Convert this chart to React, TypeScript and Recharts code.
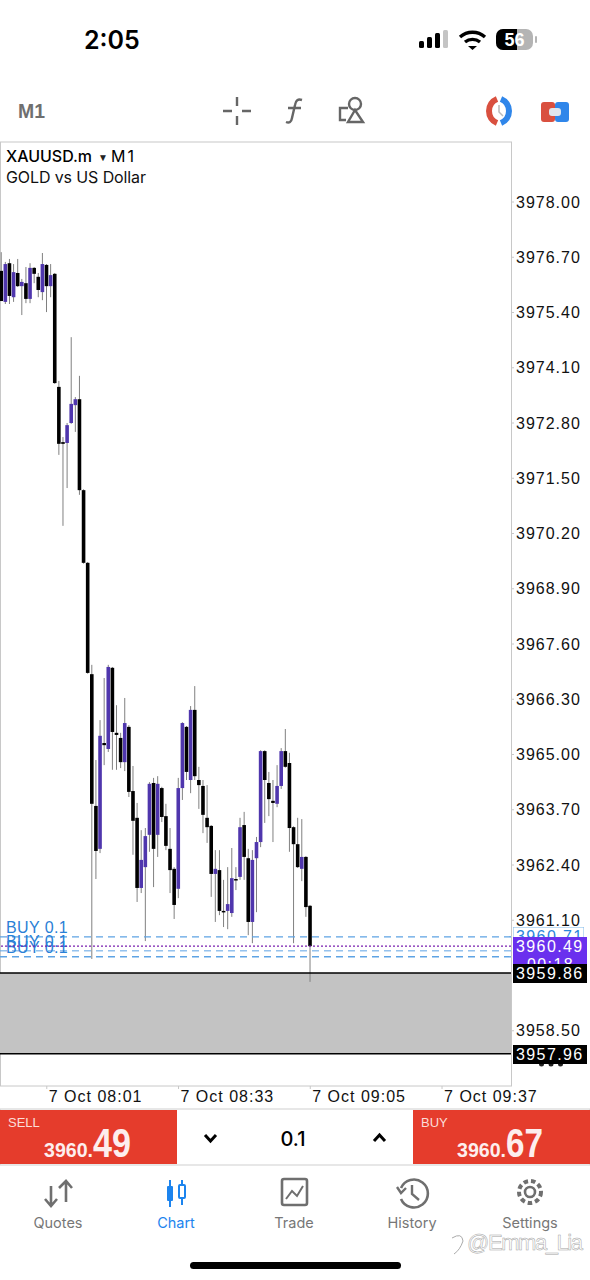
import { Bar, ComposedChart, ReferenceArea, ReferenceLine, XAxis, YAxis } from "recharts";

// M1 candles, 07:50 to 09:05
const opens = [
  3976.38, 3975.65, 3976.56, 3975.76, 3976.33, 3976.02, 3976.09, 3975.72, 3976.45, 3976.24,
  3975.88, 3976.52, 3976.02, 3976.31, 3973.65, 3972.35, 3972.33, 3972.80, 3973.22, 3973.36,
  3971.22, 3969.51, 3966.89, 3963.79, 3962.78, 3965.27, 3965.13, 3967.04, 3965.51, 3965.39,
  3964.82, 3965.65, 3964.14, 3963.51, 3961.86, 3962.35, 3963.11, 3964.33, 3963.11, 3964.21,
  3963.55, 3962.78, 3962.31, 3961.84, 3964.21, 3965.65, 3964.40, 3966.05, 3964.40, 3964.26,
  3963.51, 3963.32, 3962.19, 3962.28, 3961.32, 3961.32, 3961.27, 3962.07, 3962.12, 3963.34,
  3962.56, 3961.06, 3962.56, 3962.94, 3965.08, 3964.33, 3963.91, 3963.84, 3964.26, 3965.08,
  3964.80, 3963.29, 3962.89, 3962.31, 3962.59, 3961.44,
];
const highs = [
  3976.82, 3976.59, 3976.66, 3976.54, 3976.66, 3976.19, 3976.47, 3976.56, 3976.47, 3976.33,
  3976.80, 3976.54, 3976.54, 3976.33, 3973.79, 3972.47, 3972.80, 3974.82, 3973.41, 3973.91,
  3971.24, 3969.53, 3967.11, 3964.87, 3965.81, 3966.80, 3967.11, 3967.06, 3966.16, 3965.51,
  3966.33, 3965.69, 3964.73, 3963.86, 3963.22, 3963.27, 3964.35, 3964.45, 3964.49, 3964.24,
  3963.84, 3963.27, 3962.35, 3964.45, 3965.76, 3965.67, 3966.14, 3966.61, 3964.71, 3964.40,
  3964.28, 3963.34, 3962.75, 3962.75, 3962.05, 3962.35, 3962.80, 3962.35, 3963.51, 3963.65,
  3962.78, 3962.75, 3963.06, 3965.10, 3965.10, 3964.59, 3964.40, 3964.75, 3965.15, 3965.60,
  3965.04, 3963.31, 3963.51, 3963.48, 3962.61, 3961.46,
];
const lows = [
  3975.67, 3975.60, 3975.60, 3975.65, 3976.00, 3975.34, 3975.62, 3975.62, 3976.09, 3975.76,
  3975.69, 3975.41, 3975.76, 3973.72, 3972.05, 3970.38, 3971.27, 3972.78, 3972.59, 3971.11,
  3969.49, 3966.90, 3960.19, 3962.07, 3962.68, 3964.75, 3965.06, 3964.64, 3964.64, 3964.68,
  3964.61, 3964.00, 3962.64, 3961.53, 3961.74, 3960.61, 3962.71, 3961.88, 3962.59, 3963.41,
  3962.75, 3961.74, 3961.13, 3961.62, 3963.93, 3964.40, 3964.09, 3964.40, 3963.72, 3963.15,
  3962.92, 3961.65, 3961.06, 3961.22, 3960.94, 3960.89, 3961.18, 3961.81, 3962.05, 3962.05,
  3960.75, 3960.56, 3961.29, 3962.82, 3963.39, 3963.55, 3962.94, 3963.76, 3964.19, 3964.69,
  3962.71, 3960.56, 3962.33, 3962.02, 3961.18, 3959.65,
];
const closes = [
  3975.67, 3976.54, 3975.79, 3976.35, 3976.02, 3976.12, 3975.72, 3976.45, 3976.31, 3975.93,
  3976.54, 3976.02, 3976.28, 3973.74, 3972.31, 3972.31, 3972.75, 3973.25, 3973.36, 3971.22,
  3969.51, 3966.92, 3963.84, 3962.73, 3965.44, 3965.22, 3967.06, 3965.53, 3965.46, 3964.82,
  3965.74, 3964.12, 3963.44, 3961.86, 3962.52, 3963.08, 3964.31, 3962.78, 3964.31, 3963.53,
  3962.85, 3962.28, 3961.46, 3964.21, 3965.74, 3964.59, 3966.05, 3964.49, 3964.28, 3963.58,
  3963.29, 3962.19, 3962.31, 3961.32, 3961.29, 3961.48, 3962.09, 3962.05, 3963.29, 3962.59,
  3961.06, 3962.52, 3962.94, 3965.08, 3964.40, 3963.95, 3963.86, 3964.26, 3965.08, 3964.71,
  3963.27, 3962.89, 3962.35, 3962.59, 3961.41, 3960.49,
];

const priceTicks = [
  3978.0, 3976.7, 3975.4, 3974.1, 3972.8, 3971.5, 3970.2, 3968.9, 3967.6, 3966.3, 3965.0, 3963.7,
  3962.4, 3961.1, 3958.5,
];
const timeTicks = [11, 43, 75, 107];
const timeLabels = ["7 Oct 08:01", "7 Oct 08:33", "7 Oct 09:05", "7 Oct 09:37"];
const buyLevels = [3960.71, 3960.38, 3960.24];
const buyLabel = "BUY 0.1";
const lastPrice = 3960.49;
const bandTop = 3959.86;
const bandBottom = 3957.96;
const tabs = ["Quotes", "Chart", "Trade", "History", "Settings"];

const data = opens.map((open, index) => ({
  index,
  open,
  high: highs[index],
  low: lows[index],
  close: closes[index],
}));

const SANS = '"Liberation Sans", Arial, sans-serif';
const GREY = "#6f6f6f";
const BLUE = "#1c84ee";
const RED = "#e53c2c";

// draws wick and body inside the low-high rectangle the Bar gives us
function Candle(props: any) {
  const { x, y, width, height, payload } = props;
  const perPrice = height / (payload.high - payload.low);
  const up = payload.close > payload.open;
  const bodyTop = y + (payload.high - Math.max(payload.open, payload.close)) * perPrice;
  const bodyH = Math.max(Math.abs(payload.open - payload.close) * perPrice, 1.5);
  const mid = x + width / 2;
  return (
    <g>
      <line x1={mid} x2={mid} y1={y} y2={y + height} stroke="#808080" strokeWidth={1} />
      <rect
        x={x}
        y={bodyTop}
        width={width}
        height={bodyH}
        fill={up ? "#4f36ad" : "#000"}
      />
    </g>
  );
}

function TimeTick({ x, y, payload }: any) {
  return (
    <text x={x + 2} y={y + 11} textAnchor="start" fontSize={16} fill="#111">
      {timeLabels[timeTicks.indexOf(payload.value)]}
    </text>
  );
}

function PriceTag({ viewBox, top, height, fill, stroke, color, text, sub, baseline, w = 74 }: any) {
  const left = viewBox.x + viewBox.width + 2;
  return (
    <svg x={left} y={top} width={w} height={height} overflow="hidden">
      <rect x={0} y={0} width={w} height={height} fill={fill} stroke={stroke} />
      <text x={3} y={baseline} fontSize={16} fill={color} style={{ letterSpacing: 1.4 }}>
        {text}
      </text>
      {sub && (
        <text x={14} y={33} fontSize={16} fill={color} style={{ letterSpacing: 1.4 }}>
          {sub}
        </text>
      )}
    </svg>
  );
}

function Chrome() {
  return (
    <svg
      width={590}
      height={1280}
      style={{ position: "absolute", left: 0, top: 0 }}
      fontFamily={SANS}
    >
      {/* status bar */}
      <text x={84} y={49} fontSize={25} fontWeight={600} fontFamily="Inter" fill="#000">
        2:05
      </text>
      <rect x={419} y={41} width={5} height={7} rx={1.5} fill="#000" />
      <rect x={427} y={37} width={5} height={11} rx={1.5} fill="#000" />
      <rect x={435} y={33} width={5} height={15} rx={1.5} fill="#000" />
      <rect x={443} y={30} width={5} height={18} rx={1.5} fill="#c4c4c4" />
      <path d="M460 37 A19 19 0 0 1 485 37" fill="none" stroke="#000" strokeWidth={3.4} />
      <path d="M465 42 A12 12 0 0 1 480 42" fill="none" stroke="#000" strokeWidth={3.4} />
      <path d="M468 46 L477 46 L472.5 50 Z" fill="#000" />
      <rect x={496} y={29} width={37} height={21} rx={7} fill="#b4b4b4" />
      <path d="M503 29 H517 V50 H503 A7 7 0 0 1 496 43 V36 A7 7 0 0 1 503 29 Z" fill="#000" />
      <rect x={535} y={36} width={2} height={7} rx={1} fill="#b4b4b4" />
      <text x={514.5} y={46} textAnchor="middle" fontSize={18} fontWeight={700} fill="#fff">
        56
      </text>

      {/* toolbar */}
      <text x={18} y={118} fontSize={20} fontWeight={700} fill={GREY} textLength={27} lengthAdjust="spacingAndGlyphs">
        M1
      </text>
      <g stroke="#666" strokeWidth={2.4} fill="none">
        <path d="M223 111 H232 M242 111 H251 M237 97 V106 M237 116 V125" />
        <path d="M348 108 H340 V120 H346" />
        <circle cx={355} cy={104} r={6} />
        <path d="M355 110 L348 122 H363 Z" />
        <path d="M302 100 Q296 98 295 105 L292 118 Q291 124 286 122 M288 108 H301" />
      </g>
      <path d="M497 99 A13 13 0 0 0 497 123" fill="none" stroke="#d9503f" strokeWidth={6} />
      <path d="M501 99 A13 13 0 0 1 501 123" fill="none" stroke="#2f86ea" strokeWidth={6} />
      <path d="M499 105 V112 L503 116" fill="none" stroke="#b9b9b9" strokeWidth={1.5} />
      <rect x={541} y={102} width={14} height={20} rx={3} fill="#d9503f" />
      <rect x={555} y={102} width={14} height={20} rx={3} fill="#2f86ea" />
      <rect x={549} y={108} width={12} height={8} rx={3} fill="#dfe6ee" />

      {/* chart frame */}
      <rect x={0.5} y={142} width={511} height={944} fill="#fff" stroke="#c8c8c8" />
      <text x={6} y={162} fontSize={16} fontWeight={500} fontFamily="Inter" fill="#000" textLength={86}>
        XAUUSD.m
      </text>
      <text x={98} y={161} fontSize={10} fill="#222">
        ▼
      </text>
      <text x={111} y={162} fontSize={16} fontFamily="Inter" fill="#000" textLength={23}>
        M1
      </text>
      <text x={6} y={183} fontSize={16} fontFamily="Inter" fill="#111" textLength={140}>
        GOLD vs US Dollar
      </text>

      {/* trade panel */}
      <rect x={0} y={1109} width={590} height={56} fill="#fff" stroke="#cfcfcf" />
      <rect x={0} y={1110} width={177} height={54} fill={RED} />
      <rect x={413} y={1110} width={177} height={54} fill={RED} />
      <text x={8} y={1127} fontSize={13} fill="#fbdcd8">
        SELL
      </text>
      <text x={421} y={1127} fontSize={13} fill="#fbdcd8">
        BUY
      </text>
      <g fill="#fdeeee" fontWeight={700}>
        <text x={44} y={1157} fontSize={21} textLength={49} lengthAdjust="spacingAndGlyphs">
          3960.
        </text>
        <text x={93} y={1157} fontSize={40} textLength={38} lengthAdjust="spacingAndGlyphs">
          49
        </text>
        <text x={457} y={1157} fontSize={21} textLength={49} lengthAdjust="spacingAndGlyphs">
          3960.
        </text>
        <text x={506} y={1157} fontSize={40} textLength={37} lengthAdjust="spacingAndGlyphs">
          67
        </text>
      </g>
      <path d="M205 1135 L210.5 1141 L216 1135" fill="none" stroke="#000" strokeWidth={3} />
      <path d="M374 1141 L379.5 1135 L385 1141" fill="none" stroke="#000" strokeWidth={3} />
      <text x={293} y={1146} textAnchor="middle" fontSize={20} fontFamily="Inter" fontWeight={500} fill="#000">
        0.1
      </text>

      {/* tab bar */}
      <g stroke={GREY} strokeWidth={2.6} fill="none">
        <path d="M51 1206 V1186 M45 1199 L51 1206 L57 1199" />
        <path d="M66 1202 V1181 M59 1188 L66 1181 L72 1188" />
      </g>
      <g fill={BLUE} stroke={BLUE}>
        <path d="M170 1180 V1207" strokeWidth={2} />
        <rect x={167} y={1186} width={6} height={15} stroke="none" rx={1} />
        <path d="M182 1180 V1205" strokeWidth={2} />
        <rect x={179} y={1185} width={6} height={13} fill="#fff" strokeWidth={2} rx={1} />
      </g>
      <rect x={282} y={1179} width={25} height={26} rx={2} fill="none" stroke={GREY} strokeWidth={2.6} />
      <path d="M286 1199 L292 1191 L297 1196 L303 1186" fill="none" stroke={GREY} strokeWidth={2} />
      <path d="M401 1188 A14 14 0 1 1 401 1199" fill="none" stroke={GREY} strokeWidth={2.6} />
      <path d="M412 1185 V1194 L419 1200 M397 1187 L401 1193 L406 1188" fill="none" stroke={GREY} strokeWidth={2.4} />
      <circle cx={530} cy={1192} r={5} fill="none" stroke={GREY} strokeWidth={2.6} />
      <circle cx={530} cy={1192} r={11} fill="none" stroke={GREY} strokeWidth={4} strokeDasharray="4.5 3" />
      {tabs.map((label, i) => (
        <text
          key={label}
          x={58 + i * 118}
          y={1228}
          textAnchor="middle"
          fontSize={14.5}
          fontFamily="Inter"
          fill={label === "Chart" ? BLUE : "#777"}
        >
          {label}
        </text>
      ))}

      {/* watermark and home bar */}
      <text x={467} y={1250} fontSize={22} fill="#fff" stroke="#a5a5a5" strokeWidth={0.5} textLength={116}>
        @Emma_Lia
      </text>
      <path d="M452 1238 Q462 1232 463 1241 Q460 1250 454 1254" fill="none" stroke="#aaa" />
      <rect x={190} y={1262} width={211} height={7} rx={3.5} fill="#000" />
    </svg>
  );
}

export default function App() {
  return (
    <div style={{ position: "absolute", left: 0, top: 0, width: 590, height: 1280, background: "#fff" }}>
      <Chrome />
      <div style={{ position: "absolute", left: 0, top: 0, fontFamily: SANS, letterSpacing: 1 }}>
        <ComposedChart
          width={590}
          height={1280}
          data={data}
          margin={{ top: 142, right: 0, bottom: 0, left: 0 }}
        >
          <XAxis
            dataKey="index"
            type="number"
            domain={[-0.36, 123.75]}
            allowDataOverflow
            ticks={timeTicks}
            interval={0}
            height={194}
            tick={<TimeTick />}
            tickLine={{ stroke: "#c8c8c8" }}
            tickSize={3}
            axisLine={false}
          />
          <YAxis
            orientation="right"
            type="number"
            domain={[3957.2, 3979.412]}
            allowDataOverflow
            ticks={priceTicks}
            interval={0}
            width={79}
            tickFormatter={(v: number) => v.toFixed(2)}
            tick={{ fontSize: 16, fill: "#111" }}
            tickLine={{ stroke: "#c8c8c8" }}
            tickSize={3}
            tickMargin={2}
            axisLine={false}
          />
          <ReferenceArea y1={bandBottom} y2={bandTop} fill="#c3c3c3" fillOpacity={1} stroke="none" />
          <Bar
            dataKey={(d: any) => [d.low, d.high]}
            barSize={3.6}
            shape={<Candle />}
            isAnimationActive={false}
          />
          {buyLevels.map((level, i) => (
            <ReferenceLine
              key={level}
              y={level}
              stroke="#5ea3e4"
              strokeWidth={i === 1 ? 1 : 1.4}
              strokeDasharray="7 5"
              label={(p: any) => (
                <text x={6} y={p.viewBox.y - 4} fontSize={16} fill="#2a80d6" style={{ letterSpacing: 0.4 }}>
                  {buyLabel}
                </text>
              )}
            />
          ))}
          <ReferenceLine y={lastPrice} stroke="#7a1fb0" strokeWidth={1.2} strokeDasharray="2 2" />
          <ReferenceLine y={bandTop} stroke="#000" strokeWidth={1.6} />
          <ReferenceLine y={bandBottom} stroke="#000" strokeWidth={1.6} />
          <ReferenceLine
            y={buyLevels[0]}
            stroke="none"
            label={(p: any) => (
              <PriceTag viewBox={p.viewBox} top={927} height={11} baseline={15} w={71} fill="#fff" stroke="#7fb9ea" color="#2a86dc" text={buyLevels[0].toFixed(2)} />
            )}
          />
          <ReferenceLine
            y={lastPrice}
            stroke="none"
            label={(p: any) => (
              <PriceTag viewBox={p.viewBox} top={937} height={27} baseline={15} fill="#6a30ee" color="#fff" text={lastPrice.toFixed(2)} sub="00:18" />
            )}
          />
          <ReferenceLine
            y={bandTop}
            stroke="none"
            label={(p: any) => (
              <PriceTag viewBox={p.viewBox} top={964} height={19} baseline={15} fill="#000" color="#fff" text={bandTop.toFixed(2)} />
            )}
          />
          <ReferenceLine
            y={bandBottom}
            stroke="none"
            label={(p: any) => (
              <g>
                <circle cx={541.5} cy={1064} r={2.5} fill="#222" />
                <circle cx={551} cy={1064} r={2.5} fill="#222" />
                <circle cx={560.5} cy={1064} r={2.5} fill="#222" />
                <PriceTag viewBox={p.viewBox} top={1045} height={19} baseline={15} fill="#000" color="#fff" text={bandBottom.toFixed(2)} />
              </g>
            )}
          />
        </ComposedChart>
      </div>
    </div>
  );
}
